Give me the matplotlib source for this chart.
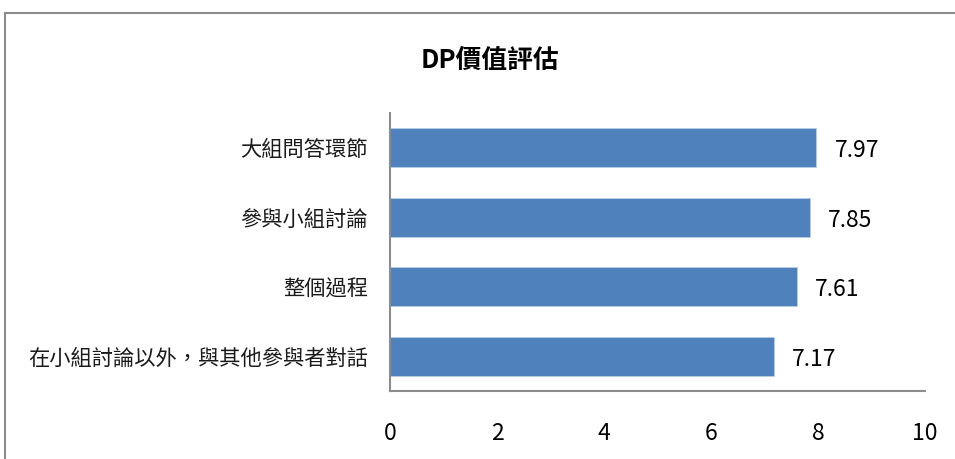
import matplotlib.pyplot as plt
from matplotlib.patches import Rectangle

plt.rcParams['font.family'] = ['Noto Sans CJK TC', 'DejaVu Sans']

# 資料（由下而上）
categories = ['在小組討論以外，與其他參與者對話', '整個過程', '參與小組討論', '大組問答環節']
values = [7.17, 7.61, 7.85, 7.97]
xticks = [0, 2, 4, 6, 8, 10]

fig = plt.figure(figsize=(9.55, 4.59), dpi=100)
ax = fig.add_axes([0.4084, 0.1482, 0.5602, 0.6056])

pos = range(len(categories))
ax.barh(pos, values, height=0.56, color='#4F81BD', edgecolor='#B9CDE5', linewidth=0.6)

for p, v in zip(pos, values):
    ax.annotate(f'{v:.2f}', xy=(v, p), xytext=(13, -2), textcoords='offset points',
                va='center', ha='left', fontsize=16.5, color='black')

ax.set_xlim(0, 10)
ax.set_ylim(-0.5, 3.5)
ax.set_xticks(xticks)
ax.set_xticklabels([str(t) for t in xticks], fontsize=16.5)
ax.set_yticks(list(pos))
ax.set_yticklabels(categories, fontsize=15.3, color='#1a1a1a')
ax.tick_params(axis='both', length=0)
ax.tick_params(axis='x', pad=22)
ax.tick_params(axis='y', pad=16)

for s in ['top', 'right']:
    ax.spines[s].set_visible(False)
for s in ['left', 'bottom']:
    ax.spines[s].set_color('#8C8C8C')
    ax.spines[s].set_linewidth(1.5)

fig.text(0.513, 0.869, 'DP價值評估', ha='center', va='center', fontsize=18.5, fontweight='bold')

# 外框
fig.patches.append(Rectangle((5 / 955, -0.1), 1.2, 1 - 13 / 459 + 0.1, transform=fig.transFigure,
                             fill=False, edgecolor='#8C8C8C', linewidth=1.5))

fig.savefig('out.png', dpi=100)
